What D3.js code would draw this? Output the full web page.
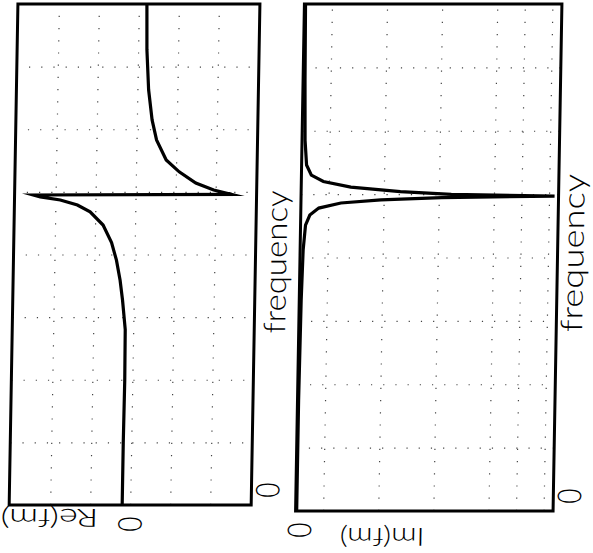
<!DOCTYPE html>
<meta charset="utf-8">
<style>
  body { margin: 0; background: #fff; }
  text { font-family: Lato, "Open Sans", "DejaVu Sans", sans-serif; font-weight: 300; fill: #000; }
</style>
<body>
<script src="https://cdn.jsdelivr.net/npm/d3@7"></script>
<script>
// frequency runs up the page, values run across (the scan is turned on its side)
var freqTicks = [1, 2, 3, 4, 5, 6, 7];
var reTicks = [-2, -1, 0, 1, 2];
var imTicks = [1, 3, 5, 7, 8, 9];

// Re(f): [frequency, value]
var reCurve = [
  [0, 0.2], [1.0, 0.2], [2.0, 0.19], [2.8, 0.2], [3.27, 0.28], [3.59, 0.35],
  [3.91, 0.45], [4.19, 0.58], [4.47, 0.8], [4.68, 1.13], [4.79, 1.45],
  [4.87, 1.88], [4.92, 2.38], [4.95, 2.55],
  [4.96, -2.4], [5.03, -1.95], [5.14, -1.5], [5.32, -1.08], [5.51, -0.75],
  [5.83, -0.5], [6.15, -0.38], [6.63, -0.28], [7.27, -0.22], [8, -0.2]
];

// Im(f)
var imCurve = [
  [0, 0.04], [1.75, 0.04], [3.33, 0.07], [4.12, 0.11], [4.51, 0.18],
  [4.67, 0.33], [4.78, 0.65], [4.86, 1.45], [4.91, 2.9], [4.945, 5.1],
  [4.97, 9.2], [4.995, 5.45], [5.04, 3.6], [5.11, 1.8], [5.2, 0.8],
  [5.3, 0.36], [5.46, 0.18], [5.85, 0.11], [6.8, 0.07], [8, 0.04]
];

var width = 593,
    height = 553;

var svg = d3.select("body").append("svg")
    .attr("width", width)
    .attr("height", height);

svg.append("rect").attr("width", width).attr("height", height).attr("fill", "#fff");

// the scan is a touch skewed
var k = Math.tan(Math.PI / 180);
var g = svg.append("g")
    .attr("transform", "translate(" + (k * 257) + ",0) skewX(-1)");

function panel(opts) {
  var x = d3.scaleLinear().domain(opts.valueDomain).range([opts.left, opts.right]);
  var y = d3.scaleLinear().domain([0, 8]).range([opts.bottom, opts.top]);
  var p = g.append("g");

  // dotted grid, faint like the scan
  p.append("g")
    .attr("transform", "translate(" + opts.left + ",0)")
    .call(d3.axisLeft(y).tickValues(freqTicks).tickSize(-(opts.right - opts.left)).tickFormat(""))
    .call(grid);
  p.append("g")
    .attr("transform", "translate(0," + opts.bottom + ")")
    .call(d3.axisBottom(x).tickValues(opts.ticks).tickSize(-(opts.bottom - opts.top)).tickFormat(""))
    .call(grid);

  var line = d3.line()
      .x(function(d) { return x(d[1]); })
      .y(function(d) { return y(d[0]); });

  p.append("path")
    .datum(opts.data)
    .attr("d", line)
    .attr("fill", "none")
    .attr("stroke", "#000")
    .attr("stroke-width", 3.2)
    .attr("stroke-linejoin", "miter")
    .attr("stroke-miterlimit", 30);

  p.append("rect")
    .attr("x", opts.left).attr("y", opts.top)
    .attr("width", opts.right - opts.left).attr("height", opts.bottom - opts.top)
    .attr("fill", "none").attr("stroke", "#000").attr("stroke-width", 3);

  // "0" on the frequency axis
  p.append("text")
    .attr("transform", "translate(" + (opts.right + 16) + "," + (y(0) - 15) + ") rotate(-90) scale(0.8,1)")
    .attr("text-anchor", "middle").attr("dy", "0.36em")
    .style("font-size", "33px")
    .text("0");
  // "0" on the value axis
  p.append("text")
    .attr("transform", "translate(" + (x(0) + opts.zeroDx) + "," + (opts.bottom + opts.zeroDy) + ") rotate(-90) scale(0.8,1)")
    .attr("text-anchor", "middle").attr("dy", "0.36em")
    .style("font-size", "33px")
    .text("0");
  // value label, upside down
  p.append("text")
    .attr("transform", "translate(" + opts.labelX + "," + (opts.bottom + opts.labelDy) + ") rotate(180)")
    .attr("text-anchor", "middle").attr("dy", "0.33em")
    .attr("textLength", opts.labelLen).attr("lengthAdjust", "spacingAndGlyphs")
    .style("font-size", "25px")
    .text(opts.label);
  // frequency label
  p.append("text")
    .attr("transform", "translate(" + (opts.right + opts.freqDx) + "," + opts.freqY + ") rotate(-90)")
    .attr("text-anchor", "middle").attr("dy", "0.33em")
    .attr("textLength", opts.freqLen).attr("lengthAdjust", "spacingAndGlyphs")
    .style("font-size", "30px")
    .text("frequency");
}

function grid(sel) {
  sel.select(".domain").remove();
  sel.selectAll("line")
    .attr("stroke", "#444")
    .attr("stroke-width", 1.2)
    .attr("stroke-dasharray", "1.2 11");
}

panel({
  data: reCurve, valueDomain: [3.025, -3.025], ticks: reTicks,
  left: 13.5, right: 255.5, top: 4, bottom: 505,
  zeroDx: 0, zeroDy: 19, label: "Re(fm)", labelX: 54, labelDy: 12, labelLen: 98,
  freqDx: 21, freqY: 262, freqLen: 143
});

panel({
  data: imCurve, valueDomain: [0, 9.345], ticks: imTicks,
  left: 300, right: 557.5, top: 4, bottom: 511,
  zeroDx: 4, zeroDy: 19, label: "Im(fm)", labelX: 387, labelDy: 25, labelLen: 85,
  freqDx: 16, freqY: 253, freqLen: 158
});
</script>
</body>
</html>
